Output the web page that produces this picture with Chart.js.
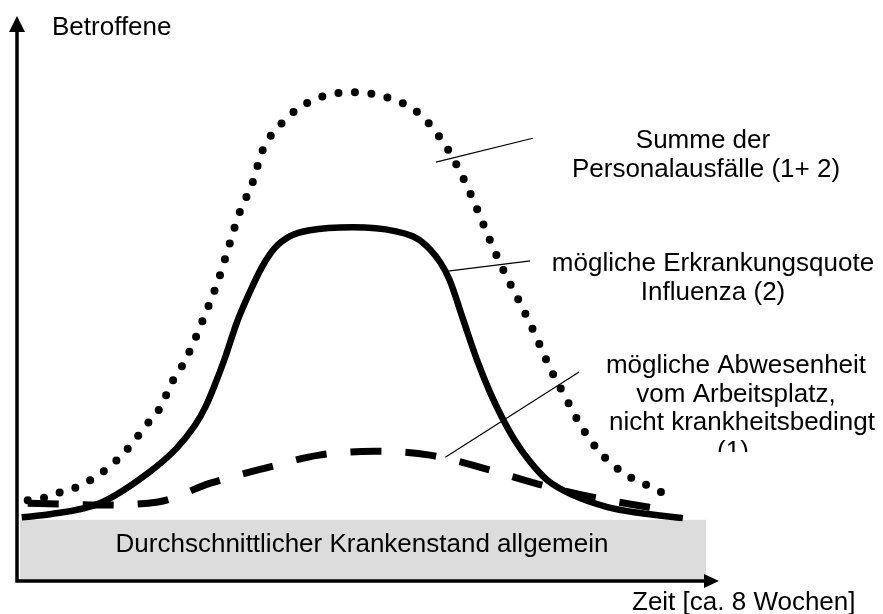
<!DOCTYPE html>
<html>
<head>
<meta charset="utf-8">
<script src="https://cdn.jsdelivr.net/npm/chart.js@4/dist/chart.umd.min.js"></script>
<style>
  html, body { margin:0; padding:0; background:#fff; }
  #wrap { width:883px; height:614px; position:relative; }
</style>
</head>
<body>
<div id="wrap"><canvas id="chart"></canvas></div>
<script>
// Zeit in Wochen (0..8), Betroffene in relativen Einheiten (0 = allgemeiner Krankenstand)
const influenzaWochen = [0.02,0.35,0.93,1.52,1.83,2.04,2.16,2.27,2.39,2.53,2.68,2.82,2.97,3.15,3.38,3.88,4.37,4.66,4.90,5.01,5.17,5.33,5.48,5.62,5.77,5.95,6.15,6.45,6.85,7.23,7.73];
const influenzaWerte  = [0.2,0.9,3.5,11.0,16.5,21.8,26.0,31.2,37.6,46.0,53.1,58.9,63.4,66.2,67.6,68.3,67.4,65.3,60.1,55.9,46.5,37.1,29.6,23.7,18.3,13.2,8.9,5.4,2.6,1.2,0.0];

const summeWochen = [0.09,0.31,0.50,0.69,0.86,1.05,1.21,1.34,1.46,1.61,1.70,1.78,1.89,2.01,2.16,2.31,2.43,2.55,2.71,2.83,3.09,3.42,3.88,4.31,4.66,4.98,5.17,5.33,5.49,5.66,5.82,6.01,6.17,6.36,6.55,6.76,7.06,7.43,7.60];
const summeWerte  = [4.2,4.9,6.3,7.5,9.4,12.2,15.3,18.3,21.6,25.1,28.7,32.2,35.7,40.6,47.9,55.7,63.4,71.2,78.7,86.4,93.5,98.2,100.0,98.6,94.9,86.9,79.8,72.6,64.8,57.3,51.0,43.0,35.7,28.4,21.4,15.5,10.3,6.6,4.7];

const abwesenheitWochen = [0.09,0.47,0.93,1.61,2.22,2.85,3.49,4.13,4.78,5.41,6.04,6.68,7.32,7.52];
const abwesenheitWerte  = [3.5,3.3,3.1,3.8,8.2,11.7,14.8,15.7,14.8,11.7,8.0,4.9,2.6,1.9];

const achsenTitel = { y: 'Betroffene', x: 'Zeit [ca. 8 Wochen]' };
const grundlast = 'Durchschnittlicher Krankenstand allgemein';
const labelSumme = ['Summe der', 'Personalausfälle (1+ 2)'];
const labelInfluenza = ['mögliche Erkrankungsquote', 'Influenza (2)'];
const labelAbwesenheit = ['mögliche Abwesenheit', 'vom Arbeitsplatz,', 'nicht krankheitsbedingt', '(1)'];

function toPoints(xs, ys){ return xs.map((v,i)=>({x:v, y:ys[i]})); }

const FONT = '26px "Liberation Sans", Arial, sans-serif';

const diagram = {
  id: 'diagram',
  beforeDatasetsDraw(chart){
    const {ctx, scales:{x, y}} = chart;
    const x0 = x.getPixelForValue(0), x1 = x.getPixelForValue(8);
    const yt = y.getPixelForValue(-0.4), yb = y.getPixelForValue(-15);
    ctx.save();
    ctx.fillStyle = '#dcdcdc';
    ctx.fillRect(x0, yt, x1 - x0, yb - yt);
    ctx.fillStyle = '#000';
    ctx.font = FONT;
    ctx.textAlign = 'center';
    ctx.textBaseline = 'alphabetic';
    ctx.fillText(grundlast, 362, 552);
    ctx.restore();
  },
  afterDatasetsDraw(chart){
    const {ctx, chartArea:a, scales:{x, y}} = chart;
    ctx.save();
    ctx.strokeStyle = '#000';
    ctx.fillStyle = '#000';

    // axes with arrow heads
    const ax = a.left - 3, ay = a.bottom - 1;
    ctx.lineWidth = 3.5;
    ctx.beginPath();
    ctx.moveTo(ax, ay + 1.5); ctx.lineTo(ax, 30);
    ctx.moveTo(ax - 1.5, ay); ctx.lineTo(706, ay);
    ctx.stroke();
    ctx.beginPath();
    ctx.moveTo(ax, 16); ctx.lineTo(ax - 8, 32); ctx.lineTo(ax + 8, 32); ctx.closePath();
    ctx.fill();
    ctx.beginPath();
    ctx.moveTo(719, ay); ctx.lineTo(704, ay - 7); ctx.lineTo(704, ay + 7); ctx.closePath();
    ctx.fill();

    // pointer lines
    ctx.lineWidth = 1.2;
    const pointers = [[4.85,83.6,5.98,89.2],[4.99,58.0,5.95,60.4],[4.96,14.3,6.52,34.3]];
    pointers.forEach(p=>{
      ctx.beginPath();
      ctx.moveTo(x.getPixelForValue(p[0]), y.getPixelForValue(p[1]));
      ctx.lineTo(x.getPixelForValue(p[2]), y.getPixelForValue(p[3]));
      ctx.stroke();
    });

    // texts
    ctx.font = FONT;
    ctx.textBaseline = 'alphabetic';
    ctx.textAlign = 'left';
    ctx.fillText(achsenTitel.y, 52, 35);
    ctx.fillText(achsenTitel.x, 632, 610);

    ctx.textAlign = 'center';
    ctx.fillText(labelSumme[0], 703, 148);
    ctx.fillText(labelSumme[1], 706, 177);
    ctx.fillText(labelInfluenza[0], 713, 271);
    ctx.fillText(labelInfluenza[1], 713, 300);
    ctx.fillText(labelAbwesenheit[0], 736, 373);
    ctx.fillText(labelAbwesenheit[1], 736, 402);
    ctx.fillText(labelAbwesenheit[2], 742, 430);
    // last line is cut off in the original
    ctx.save();
    ctx.beginPath();
    ctx.rect(600, 440, 283, 12);
    ctx.clip();
    ctx.fillText(labelAbwesenheit[3], 733, 459);
    ctx.restore();

    ctx.restore();
  }
};

new Chart(document.getElementById('chart'), {
  type: 'line',
  data: {
    datasets: [
      {
        label: 'Summe der Personalausfälle (1+ 2)',
        data: toPoints(summeWochen, summeWerte),
        borderColor: '#000',
        borderWidth: 8,
        borderDash: [0, 16.5],
        borderCapStyle: 'round',
        cubicInterpolationMode: 'monotone',
        pointRadius: 0,
        fill: false
      },
      {
        label: 'mögliche Abwesenheit vom Arbeitsplatz (1)',
        data: toPoints(abwesenheitWochen, abwesenheitWerte),
        borderColor: '#000',
        borderWidth: 7,
        borderDash: [31, 24],
        borderCapStyle: 'butt',
        cubicInterpolationMode: 'monotone',
        pointRadius: 0,
        fill: false
      },
      {
        label: 'mögliche Erkrankungsquote Influenza (2)',
        data: toPoints(influenzaWochen, influenzaWerte),
        borderColor: '#000',
        borderWidth: 6.5,
        borderCapStyle: 'butt',
        borderJoinStyle: 'round',
        cubicInterpolationMode: 'monotone',
        pointRadius: 0,
        fill: false
      }
    ]
  },
  options: {
    responsive: true,
    maintainAspectRatio: false,
    animation: false,
    layout: { padding: { left: 20, right: 177, top: 71, bottom: 32 } },
    plugins: { legend: { display: false }, tooltip: { enabled: false } },
    scales: {
      x: { type: 'linear', min: 0, max: 8, display: false },
      y: { type: 'linear', min: -15, max: 105, display: false }
    }
  },
  plugins: [diagram]
});
</script>
</body>
</html>
